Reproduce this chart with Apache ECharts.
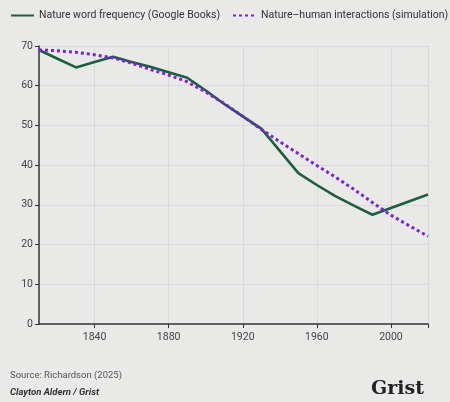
<!DOCTYPE html>
<html lang="en">
<head>
    <meta charset="UTF-8">
    <title>Nature word frequency</title>
    <script src="https://cdn.jsdelivr.net/npm/echarts@6/dist/echarts.min.js"></script>
    <style>
        html, body { margin: 0; padding: 0; background: #e9e9e8; }
        #my { width: 450px; height: 402px; }
    </style>
</head>
<body>
<div id="my"></div>
<script>
    // years shared by both series
    var years = [1810, 1820, 1830, 1840, 1850, 1860, 1870, 1880, 1890, 1900, 1910,
                 1920, 1930, 1940, 1950, 1960, 1970, 1980, 1990, 2000, 2010, 2020]
    // Google Books word frequency
    var wordFreq = [69, 66.8, 64.6, 66, 67.3, 66, 64.8, 63.4, 62, 58.8, 55.4,
                    52.3, 49.2, 43.6, 38, 35, 32.2, 29.8, 27.5, 29.2, 30.9, 32.6]
    // simulation
    var simulation = [69, 68.8, 68.4, 67.8, 67, 65.7, 64.1, 62.7, 61, 58.4, 55.5,
                      52.3, 49, 45.9, 42.9, 39.9, 37, 33.9, 30.6, 27.4, 24.7, 22.1]
    var seriesNames = ['Nature word frequency (Google Books)', 'Nature–human interactions (simulation)']
    var xLabels = [1840, 1880, 1920, 1960, 2000]
    var xTicks = [1840, 1880, 1920, 1960, 2000, 2020]

    function pairs(vals) {
        return years.map(function (y, i) { return [y, vals[i]] })
    }

    var font = 'Roboto, "Noto Sans", sans-serif'
    var legendBase = {
        top: 10, padding: 0,
        itemWidth: 23, itemHeight: 10,
        itemStyle: { opacity: 0 },
        textStyle: { fontSize: 10.5, color: '#333', fontFamily: font }
    }
    var mCharts = echarts.init(document.getElementById('my'))
    var option = {
        backgroundColor: '#e9e9e8',
        textStyle: { fontFamily: font },
        title: [
            {
                text: 'Source: Richardson (2025)',
                left: 5, top: 366,
                textStyle: { fontSize: 9.5, fontWeight: 'normal', color: '#555', fontFamily: font }
            },
            {
                text: 'Clayton Aldern / Grist',
                left: 5, top: 383,
                textStyle: { fontSize: 9.5, fontWeight: 'bold', fontStyle: 'italic', color: '#333', fontFamily: font }
            },
            {
                text: 'Grist',
                right: 21, top: 375,
                textStyle: { fontSize: 19, fontWeight: 'bold', color: '#222', fontFamily: '"DejaVu Serif", "Liberation Serif", serif' }
            }
        ],
        legend: [
            Object.assign({}, legendBase, { left: 10, data: [seriesNames[0]] }),
            Object.assign({}, legendBase, { left: 232, data: [seriesNames[1]] })
        ],
        grid: { left: 39, right: 22, top: 46, bottom: 78 },
        xAxis: {
            type: 'value',
            min: 1810, max: 2020,
            axisLine: { lineStyle: { color: '#333', width: 1.5 } },
            axisTick: { show: true, length: 4, customValues: xTicks, lineStyle: { color: '#333' } },
            axisLabel: {
                customValues: xLabels, color: '#444', fontSize: 10.5, margin: 8, fontFamily: font,
                formatter: function (v) { return String(v) }
            },
            splitLine: { show: true, lineStyle: { color: '#dadada' } }
        },
        yAxis: {
            type: 'value',
            min: 0, max: 70, interval: 10,
            axisLine: { show: true, lineStyle: { color: '#333', width: 1.5 } },
            axisTick: { show: true, length: 4, lineStyle: { color: '#333' } },
            axisLabel: { color: '#444', fontSize: 10.5, margin: 6, fontFamily: font, showMaxLabel: true, showMinLabel: true },
            splitLine: { show: true, lineStyle: { color: '#dadada' } }
        },
        series: [
            {
                name: seriesNames[0],
                type: 'line',
                data: pairs(wordFreq),
                symbol: 'none',
                color: '#1d5e42',
                lineStyle: { color: '#1d5e42', width: 2.6 }
            },
            {
                name: seriesNames[1],
                type: 'line',
                data: pairs(simulation),
                symbol: 'none',
                color: '#7a22d4',
                lineStyle: { color: '#7a22d4', width: 3, type: [3, 3] }
            }
        ]
    }
    mCharts.setOption(option)
</script>
</body>
</html>
